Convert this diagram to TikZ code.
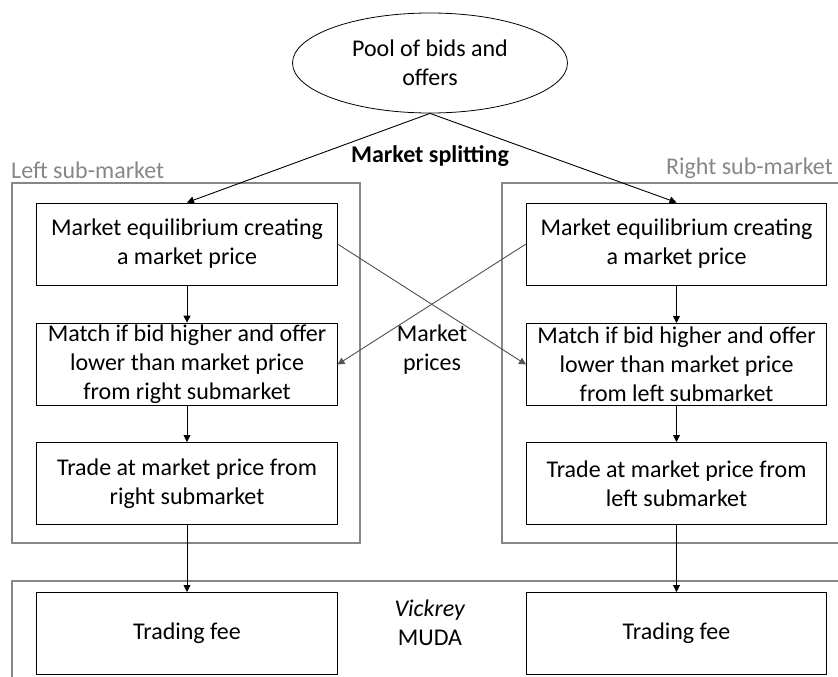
\documentclass[tikz,border=0pt]{standalone}
\usepackage{fontspec}
\setmainfont{Carlito}
\usetikzlibrary{arrows.meta,shapes.geometric}

\definecolor{framegray}{RGB}{135,135,135}
\definecolor{linkgray}{RGB}{85,85,85}

\begin{document}
\begin{tikzpicture}[x=1bp, y=-1bp,
    font=\fontsize{24bp}{29bp}\selectfont,
    stepbox/.style={draw, line width=1bp, align=center,
        minimum width=300bp, minimum height=82bp, inner sep=2bp},
    frame/.style={draw=framegray, line width=2bp},
    flow/.style={-{Triangle[length=7bp,width=7bp]}, line width=0.9bp},
    link/.style={flow, draw=linkgray, fill=linkgray}]

    \useasboundingbox (0,0) rectangle (838,677);
    \clip (0,0) rectangle (838,677);

    % Sub-market frames
    \draw[frame] (12,183) rectangle (360,543);
    \draw[frame] (502,183) rectangle (860,543);
    \draw[frame] (12,581) rectangle (860,700);
    \node[framegray, anchor=south west, inner sep=1bp] (lname) at (10,180) {Left sub-market};
    \node[framegray, anchor=south east, inner sep=1bp] (rname) at (834,180) {Right sub-market};

    % Pool
    \node[draw, ellipse, line width=0.8bp, minimum width=275bp, minimum height=100bp, align=center,
        inner sep=0bp] (pool) at (430,63) {Pool of bids and\\offers};
    \node[font=\fontsize{24bp}{29bp}\selectfont\bfseries] (split) at (430,156) {Market splitting};

    % Left sub-market
    \node[stepbox] (l1) at (187,244) {Market equilibrium creating\\a market price};
    \node[stepbox] (l2) at (187,364.5) {Match if bid higher and offer\\lower than market price\\from right submarket};
    \node[stepbox] (l3) at (187,483.5) {Trade at market price from\\right submarket};
    \node[stepbox] (l4) at (187,633.5) {Trading fee};

    % Right sub-market
    \node[stepbox] (r1) at (676.5,244) {Market equilibrium creating\\a market price};
    \node[stepbox] (r2) at (676.5,364.5) {Match if bid higher and offer\\lower than market price\\from left submarket};
    \node[stepbox] (r3) at (676.5,483.5) {Trade at market price from\\left submarket};
    \node[stepbox] (r4) at (676.5,633.5) {Trading fee};

    % Middle labels
    \node[align=center] (prices) at (432,350) {Market\\prices};
    \node[align=center] (muda) at (430,623) {\textit{Vickrey}\\MUDA};

    % Connectors
    \draw[flow] (pool.south) -- (l1.north);
    \draw[flow] (pool.south) -- (r1.north);
    \draw[flow] (l1) -- (l2);
    \draw[flow] (l2) -- (l3);
    \draw[flow] (l3) -- (l4);
    \draw[flow] (r1) -- (r2);
    \draw[flow] (r2) -- (r3);
    \draw[flow] (r3) -- (r4);
    \draw[link] (l1.east) -- (r2.west);
    \draw[link] (r1.west) -- (l2.east);

\end{tikzpicture}
\end{document}
